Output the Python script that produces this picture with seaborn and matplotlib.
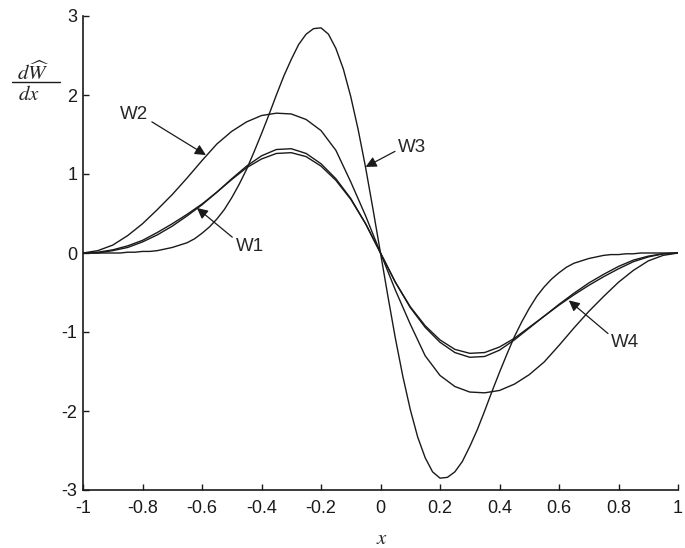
import numpy as np
import pandas as pd
import seaborn as sns
import matplotlib.pyplot as plt

# sample positions
x_coarse = np.linspace(-1, 1, 41)
x_fine = np.linspace(-1, 1, 81)

w1 = [0.00, 0.01, 0.04, 0.09, 0.16, 0.26, 0.37, 0.49, 0.62, 0.77, 0.93,
      1.08, 1.19, 1.26, 1.27, 1.22, 1.10, 0.92, 0.68, 0.37, 0.00,
      -0.37, -0.68, -0.92, -1.10, -1.22, -1.27, -1.26, -1.19, -1.08, -0.94,
      -0.80, -0.66, -0.53, -0.41, -0.30, -0.20, -0.11, -0.05, -0.01, 0.00]
w2 = [0.00, 0.03, 0.10, 0.22, 0.37, 0.55, 0.74, 0.95, 1.17, 1.38, 1.54,
      1.66, 1.74, 1.77, 1.76, 1.69, 1.55, 1.30, 0.90, 0.47, 0.00,
      -0.47, -0.90, -1.30, -1.55, -1.69, -1.76, -1.77, -1.74, -1.66, -1.54,
      -1.38, -1.17, -0.95, -0.74, -0.55, -0.37, -0.22, -0.10, -0.03, 0.00]
w4 = [0.00, 0.00, 0.03, 0.07, 0.14, 0.23, 0.34, 0.47, 0.61, 0.77, 0.94,
      1.10, 1.23, 1.31, 1.32, 1.26, 1.13, 0.94, 0.69, 0.37, 0.00,
      -0.37, -0.69, -0.94, -1.13, -1.26, -1.32, -1.31, -1.23, -1.10, -0.95,
      -0.80, -0.65, -0.51, -0.38, -0.27, -0.17, -0.09, -0.04, -0.01, 0.00]
w3 = [0.00, 0.00, 0.00, 0.00, 0.00, 0.00, 0.01, 0.01, 0.02, 0.02, 0.03,
      0.05, 0.07, 0.10, 0.13, 0.18, 0.25, 0.33, 0.43, 0.55, 0.70,
      0.87, 1.06, 1.28, 1.51, 1.75, 2.00, 2.24, 2.45, 2.64, 2.77,
      2.84, 2.85, 2.77, 2.59, 2.33, 1.98, 1.56, 1.08, 0.55, 0.00,
      -0.55, -1.08, -1.56, -1.98, -2.33, -2.59, -2.77, -2.85, -2.84, -2.77,
      -2.64, -2.45, -2.24, -2.00, -1.75, -1.51, -1.28, -1.06, -0.87, -0.70,
      -0.55, -0.43, -0.33, -0.25, -0.18, -0.13, -0.10, -0.07, -0.05, -0.03,
      -0.02, -0.02, -0.01, -0.01, 0.00, 0.00, 0.00, 0.00, 0.00, 0.00]

xticks = [-1, -0.8, -0.6, -0.4, -0.2, 0, 0.2, 0.4, 0.6, 0.8, 1]
xtick_labels = ['-1', '-0.8', '-0.6', '-0.4', '-0.2', '0', '0.2', '0.4', '0.6', '0.8', '1']
yticks = [-3, -2, -1, 0, 1, 2, 3]
ytick_labels = ['-3', '-2', '-1', '0', '1', '2', '3']

df = pd.concat([
    pd.DataFrame({'x': x_coarse, 'dW': w1, 'kernel': 'W1'}),
    pd.DataFrame({'x': x_coarse, 'dW': w2, 'kernel': 'W2'}),
    pd.DataFrame({'x': x_fine, 'dW': w3, 'kernel': 'W3'}),
    pd.DataFrame({'x': x_coarse, 'dW': w4, 'kernel': 'W4'}),
])

sns.set_theme(style='ticks')
plt.rcParams['font.family'] = ['Liberation Sans', 'DejaVu Sans']
plt.rcParams['mathtext.fontset'] = 'stix'

fig = plt.figure(figsize=(6.85, 5.48), dpi=100)
ax = fig.add_axes([83 / 685, 58 / 548, 595 / 685, 474 / 548])

sns.lineplot(data=df, x='x', y='dW', hue='kernel', estimator=None,
             palette={'W1': 'k', 'W2': 'k', 'W3': 'k', 'W4': 'k'},
             linewidth=1.0, legend=False, ax=ax)

ax.set_xlim(-1, 1)
ax.set_ylim(-3, 3)
ax.set_xticks(xticks, xtick_labels)
ax.set_yticks(yticks, ytick_labels)
ax.set_xlabel('')
ax.set_ylabel('')
ax.tick_params(direction='in', length=4, width=1, labelsize=13, colors='k')
ax.tick_params(axis='x', pad=7)
ax.tick_params(axis='y', pad=4)
sns.despine(ax=ax)
for s in ['left', 'bottom']:
    ax.spines[s].set_linewidth(1.2)
    ax.spines[s].set_color('k')

arrow = dict(arrowstyle='-|>', color='k', lw=0.9, mutation_scale=16, shrinkA=0, shrinkB=0)
ax.annotate('W2', xy=(-0.587, 1.24), xytext=(-0.827, 1.75), fontsize=13.5,
            ha='center', va='center', arrowprops={**arrow, 'relpos': (1.0, 0.2)})
ax.annotate('W1', xy=(-0.617, 0.57), xytext=(-0.44, 0.08), fontsize=13.5,
            ha='center', va='center', arrowprops={**arrow, 'relpos': (0.0, 0.9)})
ax.annotate('W3', xy=(-0.05, 1.09), xytext=(0.107, 1.33), fontsize=13.5,
            ha='center', va='center', arrowprops={**arrow, 'relpos': (0.0, 0.4)})
ax.annotate('W4', xy=(0.633, -0.6), xytext=(0.823, -1.13), fontsize=13.5,
            ha='center', va='center', arrowprops={**arrow, 'relpos': (0.0, 0.85)})

# y label as a stacked fraction
fig.text(17 / 685, 1 - 72 / 548, r'$d\widehat{W}$', fontsize=15, ha='left', va='center')
fig.add_artist(plt.Line2D([12 / 685, 60 / 685], [1 - 82 / 548, 1 - 82 / 548],
                          color='k', lw=1.0, transform=fig.transFigure))
fig.text(18 / 685, 1 - 95 / 548, r'$dx$', fontsize=15, ha='left', va='center')
fig.text(382 / 685, 1 - 538 / 548, r'$x$', fontsize=15, ha='center', va='center')

fig.savefig('out.png', dpi=100)
